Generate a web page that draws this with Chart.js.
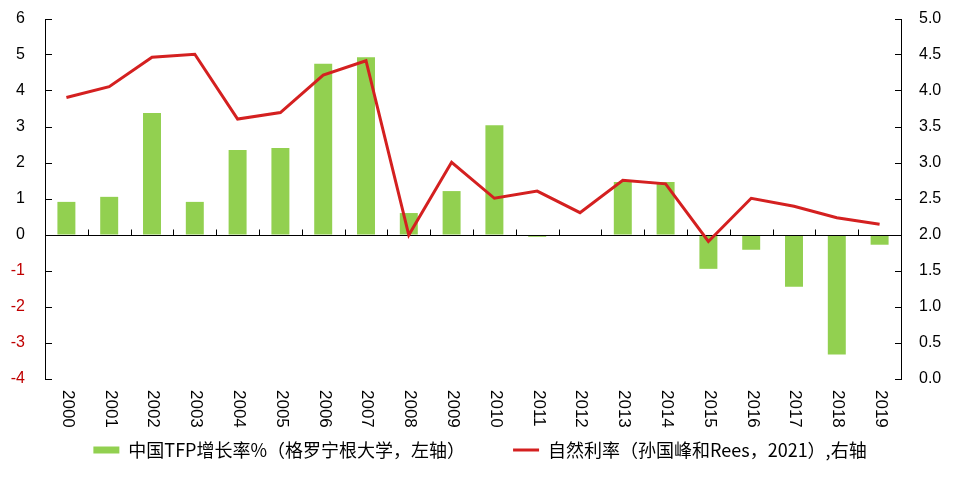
<!DOCTYPE html>
<html>
<head>
<meta charset="utf-8">
<script src="https://cdn.jsdelivr.net/npm/chart.js@4/dist/chart.umd.min.js"></script>
<style>
  body { margin: 0; background: #fff; }
</style>
</head>
<body>
<canvas id="c" width="960" height="485"></canvas>
<script>
var years = ['2000', '2001', '2002', '2003', '2004', '2005', '2006', '2007', '2008', '2009',
  '2010', '2011', '2012', '2013', '2014', '2015', '2016', '2017', '2018', '2019'];
var tfpGrowth = [0.92, 1.06, 3.39, 0.92, 2.36, 2.42, 4.76, 4.94, 0.61, 1.22,
  3.05, -0.05, 0, 1.47, 1.47, -0.94, -0.41, -1.44, -3.32, -0.27];
var naturalRate = [3.91, 4.06, 4.47, 4.51, 3.61, 3.70, 4.22, 4.42, 2.00, 3.01,
  2.51, 2.61, 2.31, 2.76, 2.71, 1.91, 2.51, 2.40, 2.24, 2.15];
var seriesNames = ['中国TFP增长率%（格罗宁根大学，左轴）', '自然利率（孙国峰和Rees，2021）,右轴'];

var green = '#92D050';
var red = '#D42020';

// zero axis line with small upward ticks between categories, drawn after the bars
var zeroAxis = {
  id: 'zeroAxis',
  afterDatasetDraw: function(chart, args) {
    if (args.meta.type !== 'bar') return;
    var ctx = chart.ctx, x = chart.scales.x, y = chart.scales.y;
    var y0 = Math.round(y.getPixelForValue(0)) + 0.5;
    var step = x.getPixelForValue(1) - x.getPixelForValue(0);
    ctx.save();
    ctx.strokeStyle = '#000';
    ctx.lineWidth = 1;
    ctx.beginPath();
    ctx.moveTo(chart.chartArea.left, y0);
    ctx.lineTo(chart.chartArea.right, y0);
    for (var i = 0; i <= years.length; i++) {
      var px = Math.round(x.getPixelForValue(i) - step / 2) + 0.5;
      ctx.moveTo(px, y0);
      ctx.lineTo(px, y0 - 6);
    }
    ctx.stroke();
    ctx.restore();
  }
};

// year labels rotated clockwise under the plot
var yearLabels = {
  id: 'yearLabels',
  afterDraw: function(chart) {
    var ctx = chart.ctx, x = chart.scales.x;
    ctx.save();
    ctx.fillStyle = '#000';
    ctx.font = '17px "Liberation Sans"';
    ctx.textAlign = 'left';
    ctx.textBaseline = 'middle';
    years.forEach(function(lbl, i) {
      ctx.save();
      ctx.translate(x.getPixelForValue(i) + 1, chart.chartArea.bottom + 11);
      ctx.rotate(Math.PI / 2);
      ctx.fillText(lbl, 0, 0);
      ctx.restore();
    });
    ctx.restore();
  }
};

function fixSide(w) {
  return function(s) {
    s.width = w;
    s.paddingTop = 9;
    s.paddingBottom = 9;
  };
}

new Chart(document.getElementById('c'), {
  data: {
    labels: years,
    datasets: [
      {
        type: 'bar',
        label: seriesNames[0],
        data: tfpGrowth,
        backgroundColor: green,
        borderWidth: 0,
        barPercentage: 0.42,
        categoryPercentage: 1,
        yAxisID: 'y',
        order: 1
      },
      {
        type: 'line',
        label: seriesNames[1],
        data: naturalRate,
        borderColor: red,
        borderWidth: 3,
        pointRadius: 0,
        tension: 0,
        fill: false,
        yAxisID: 'y1',
        order: 0
      }
    ]
  },
  options: {
    responsive: false,
    animation: false,
    layout: { padding: { top: 19, bottom: 16, left: 0, right: 0 } },
    plugins: {
      tooltip: { enabled: false },
      legend: {
        position: 'bottom',
        labels: {
          usePointStyle: true,
          pointStyleWidth: 26,
          boxHeight: 7,
          padding: 48,
          color: '#000',
          font: { family: '"Noto Sans CJK SC"', size: 18 },
          generateLabels: function(chart) {
            return [
              { text: seriesNames[0], fillStyle: green, strokeStyle: green, lineWidth: 0,
                pointStyle: 'rect', datasetIndex: 0, fontColor: '#000' },
              { text: seriesNames[1], fillStyle: red, strokeStyle: red, lineWidth: 3,
                pointStyle: 'line', datasetIndex: 1, fontColor: '#000' }
            ];
          }
        }
      }
    },
    scales: {
      x: {
        grid: { display: false },
        border: { display: false },
        ticks: { display: false },
        afterFit: function(s) { s.height = 14; }
      },
      y: {
        position: 'left',
        min: -4,
        max: 6,
        ticks: {
          stepSize: 1,
          padding: 27,
          color: function(c) { return c.tick.value < 0 ? '#C00000' : '#000'; },
          font: { family: '"Liberation Sans"', size: 16 }
        },
        grid: { drawOnChartArea: false, tickLength: -7, color: '#000' },
        border: { display: true, color: '#000', width: 1 },
        afterFit: fixSide(45)
      },
      y1: {
        position: 'right',
        min: 0,
        max: 5,
        ticks: {
          stepSize: 0.5,
          padding: 24,
          color: '#000',
          font: { family: '"Liberation Sans"', size: 16 },
          callback: function(v) { return v.toFixed(1); }
        },
        grid: { drawOnChartArea: false, tickLength: -6, color: '#000' },
        border: { display: true, color: '#000', width: 1 },
        afterFit: fixSide(59)
      }
    }
  },
  plugins: [zeroAxis, yearLabels]
});
</script>
</body>
</html>
